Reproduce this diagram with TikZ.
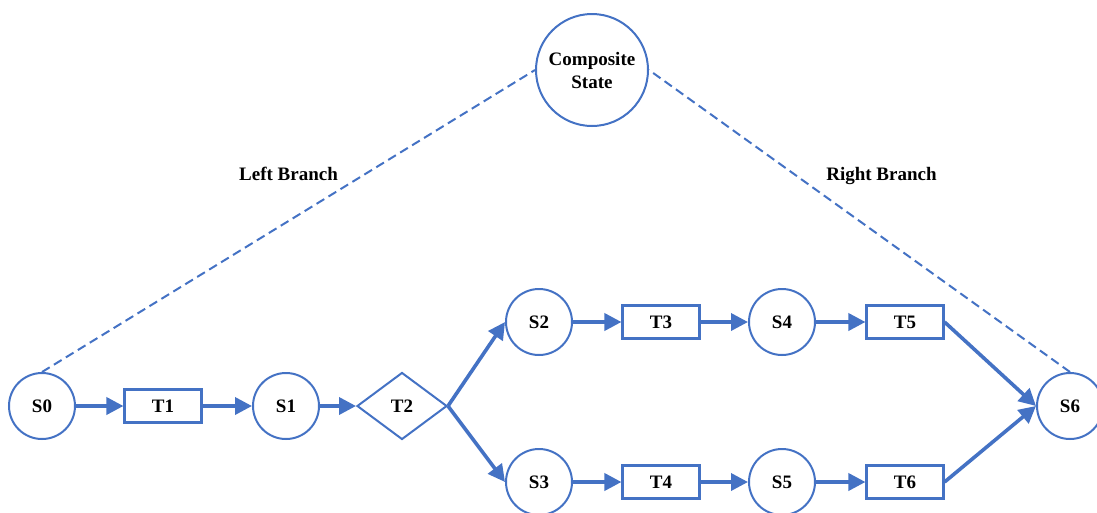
\documentclass[tikz,border=0pt]{standalone}
\usepackage{fontspec}
\setmainfont{Liberation Serif}
\usetikzlibrary{shapes.geometric,arrows.meta}
\definecolor{myblue}{HTML}{4472C4}
\begin{document}
\begin{tikzpicture}[x=1pt,y=-1pt,
  every node/.style={font=\fontsize{19}{23}\selectfont\bfseries, text=black},
  state/.style={circle, draw=myblue, line width=2pt, minimum size=66pt, inner sep=0pt},
  trans/.style={rectangle, draw=myblue, line width=2.1pt, minimum width=77pt, minimum height=33pt, inner sep=0pt},
  choice/.style={diamond, draw=myblue, line width=2pt, minimum width=90pt, minimum height=67pt, aspect=1.34, inner sep=0pt},
  flow/.style={draw=myblue, line width=3.6pt, -{Triangle[length=17pt,width=17pt]}},
  branch/.style={draw=myblue, line width=2pt, dash pattern=on 9pt off 5pt}]
\path[use as bounding box] (0,0) rectangle (1097,512);
\clip (0,0) rectangle (1097,512);
\node[circle, draw=myblue, line width=2pt, minimum size=112pt, inner sep=0pt, align=center] (comp) at (592,70) {Composite\\State};
\node[state] (s0) at (42,406) {S0};
\node[trans] (t1) at (163,406) {T1};
\node[state] (s1) at (286,406) {S1};
\node[choice] (t2) at (402,406) {T2};
\node[state] (s2) at (539,322) {S2};
\node[trans] (t3) at (661,322) {T3};
\node[state] (s4) at (782,322) {S4};
\node[trans] (t5) at (905,322) {T5};
\node[state] (s3) at (539,482) {S3};
\node[trans] (t4) at (661,482) {T4};
\node[state] (s5) at (782,482) {S5};
\node[trans] (t6) at (905,482) {T6};
\node[state] (s6) at (1070,406) {S6};
\draw[branch] (s0.north) -- node[midway, anchor=base, yshift=41pt] (lb) {Left Branch} (comp.west);
\draw[branch] (s6.north) -- node[midway, anchor=base, yshift=41pt, xshift=22pt] (rb) {Right Branch} (comp.east);
\draw[flow] (s0) -- (t1);
\draw[flow] (t1) -- (s1);
\draw[flow] (s1) -- (t2);
\draw[flow] (t2.east) -- (s2.west);
\draw[flow] (t2.east) -- (s3.west);
\draw[flow] (s2) -- (t3);
\draw[flow] (t3) -- (s4);
\draw[flow] (s4) -- (t5);
\draw[flow] (s3) -- (t4);
\draw[flow] (t4) -- (s5);
\draw[flow] (s5) -- (t6);
\draw[flow] (t5.east) -- (s6.west);
\draw[flow] (t6.east) -- (s6.west);
\end{tikzpicture}
\end{document}
